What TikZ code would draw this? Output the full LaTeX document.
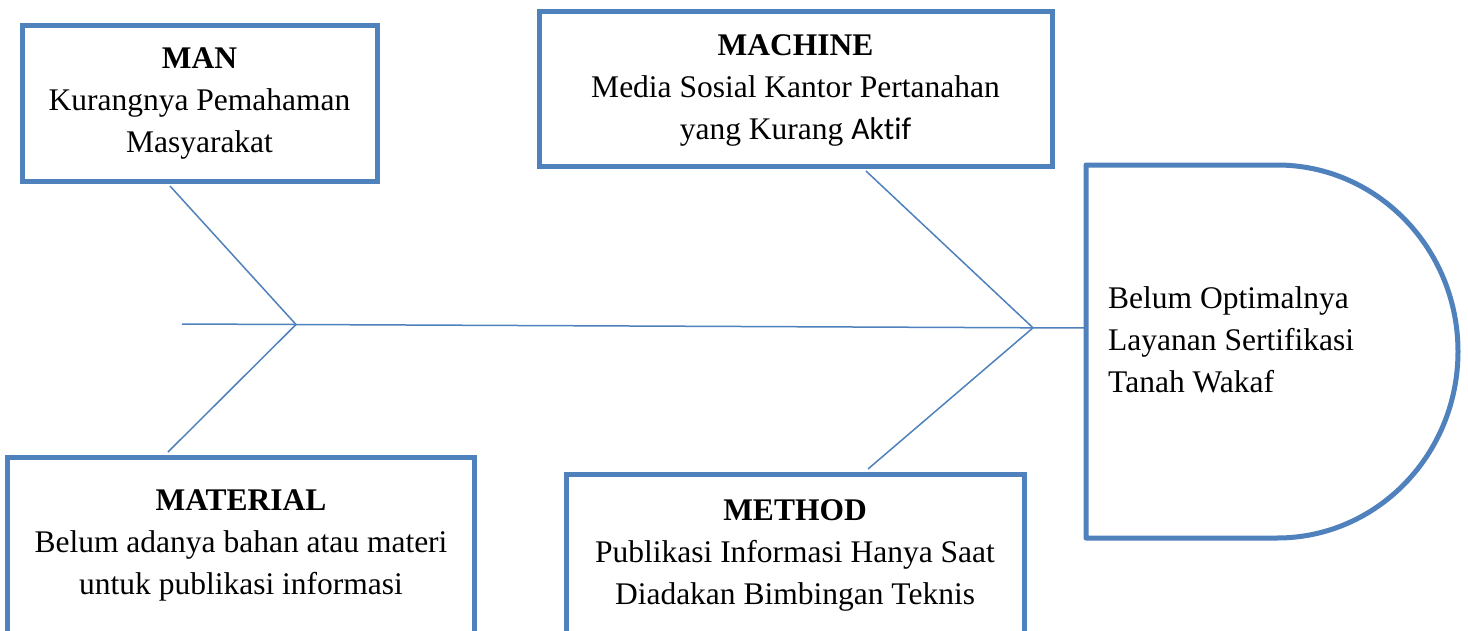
\documentclass[tikz,border=0pt]{standalone}
\usepackage{fontspec}
\setmainfont{Liberation Serif}
\newfontfamily\calib[Ligatures=NoCommon]{Carlito}
\definecolor{ofblue}{HTML}{4F81BD}
\tikzset{
  causebox/.style={draw=ofblue, line width=5pt, fill=none, inner sep=0pt},
  boxtext/.style={align=center, font=\fontsize{31.5}{42}\selectfont, text=black, inner sep=0pt},
  bone/.style={draw=ofblue, line width=1.5pt},
  dshape/.style={draw=ofblue, line width=5pt, line join=round}
}
\begin{document}
\begin{tikzpicture}[x=1pt,y=-1pt]
\useasboundingbox (0,0) rectangle (1468,630);
\clip (0,0) rectangle (1468,630);
\fill[white] (0,0) rectangle (1468,630);

% cause boxes
\node[causebox, minimum width=355pt, minimum height=156pt] (man) at (199.5,103) {};
\node[boxtext] (mantext) at (199.5,103.5) {\textbf{MAN}\\Kurangnya Pemahaman\\Masyarakat};

\node[causebox, minimum width=513pt, minimum height=155pt] (machine) at (795.5,88.5) {};
\node[boxtext] (machinetext) at (795.5,90) {\textbf{MACHINE}\\Media Sosial Kantor Pertanahan\\yang Kurang {\calib Aktif}};

\node[causebox, minimum width=467pt, minimum height=190pt] (material) at (240.5,552) {};
\node[boxtext] (materialtext) at (241,545) {\textbf{MATERIAL}\\Belum adanya bahan atau materi\\untuk publikasi informasi};

\node[causebox, minimum width=458pt, minimum height=180pt] (method) at (795,564) {};
\node[boxtext] (methodtext) at (795,555) {\textbf{METHOD}\\Publikasi Informasi Hanya Saat\\Diadakan Bimbingan Teknis};

% effect (D shape)
\draw[dshape] (1086,165) -- (1277,165)
  arc[start angle=-90, end angle=90, x radius=181, y radius=186.5]
  -- (1086,538) -- cycle;
\coordinate (dwest) at (1086,328);
\node[boxtext, align=left, anchor=west] (effect) at (1108,340) {Belum Optimalnya\\Layanan Sertifikasi\\Tanah Wakaf};

% fishbone
\coordinate (tail) at (182,324);
\coordinate (j1) at (296,324.5);
\coordinate (j2) at (1033,327.8);
\draw[bone] (tail) -- (j1) -- (j2) -- (dwest);
\draw[bone] ([xshift=-29.5pt,yshift=-2.5pt]man.south) -- (j1);
\draw[bone] (j1) -- ([xshift=-72.5pt,yshift=2.5pt]material.north);
\draw[bone] ([xshift=70.5pt,yshift=-2.5pt]machine.south) -- (j2);
\draw[bone] (j2) -- ([xshift=73pt,yshift=2.5pt]method.north);
\end{tikzpicture}
\end{document}
